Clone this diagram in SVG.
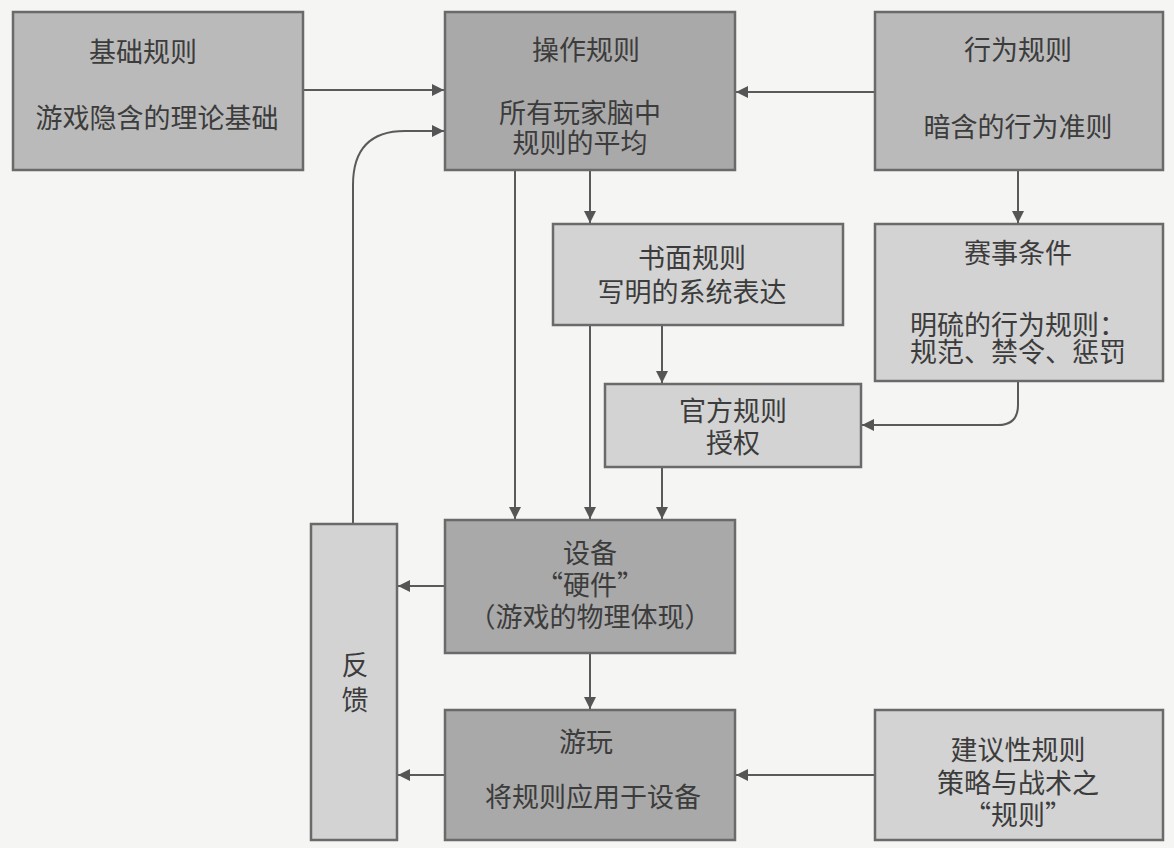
<svg xmlns="http://www.w3.org/2000/svg" width="1174" height="848" viewBox="0 0 1174 848">
<defs>
<marker id="ah" viewBox="0 0 10 10" refX="10" refY="5" markerWidth="12" markerHeight="12" markerUnits="userSpaceOnUse" orient="auto">
<path d="M0,0 L10,5 L0,10 z" fill="#555"/>
</marker>
<style>
.bg{fill:#f5f5f3}
.box{stroke:#6a6a6a;stroke-width:2.5}
.dark{fill:#a9a9a9}
.mid{fill:#bababa}
.light{fill:#d3d3d3}
.t{font-family:"Noto Sans CJK SC","Noto Sans",sans-serif;font-size:27px;fill:#3c3c3c;text-anchor:middle}
.c{fill:none;stroke:#5a5a5a;stroke-width:2;marker-end:url(#ah)}
</style>
</defs>
<rect class="bg" x="0" y="0" width="1174" height="848"/>
<g id="connectors">
<path class="c" d="M303,90 H444"/>
<path class="c" d="M353,524 V185 Q353,131 405,131 H444"/>
<path class="c" d="M875,92 H736"/>
<path class="c" d="M1018,170 V223"/>
<path class="c" d="M590,170 V223"/>
<path class="c" d="M515,170 V519"/>
<path class="c" d="M662,325 V383"/>
<path class="c" d="M590,325 V519"/>
<path class="c" d="M662,467 V519"/>
<path class="c" d="M1018,381 V405 Q1018,425 998,425 H862"/>
<path class="c" d="M445,586 H398"/>
<path class="c" d="M590,653 V709"/>
<path class="c" d="M445,775 H398"/>
<path class="c" d="M875,775 H736"/>
</g>
<g id="n-basic">
<rect class="box mid" x="13" y="12" width="290" height="158"/>
<text class="t" x="143" y="62">基础规则</text>
<text class="t" x="157" y="128">游戏隐含的理论基础</text>
</g>
<g id="n-operational">
<rect class="box dark" x="445" y="12" width="290" height="158"/>
<text class="t" x="586" y="60">操作规则</text>
<text class="t" x="580" y="123">所有玩家脑中<tspan x="580" dy="30">规则的平均</tspan></text>
</g>
<g id="n-behavior">
<rect class="box mid" x="875" y="12" width="288" height="158"/>
<text class="t" x="1018" y="60">行为规则</text>
<text class="t" x="1018" y="137">暗含的行为准则</text>
</g>
<g id="n-written">
<rect class="box light" x="553" y="224" width="290" height="101"/>
<text class="t" x="692" y="268">书面规则<tspan x="692" dy="34">写明的系统表达</tspan></text>
</g>
<g id="n-tournament">
<rect class="box light" x="875" y="224" width="288" height="157"/>
<text class="t" x="1018" y="263">赛事条件</text>
<text class="t" x="1018" y="335">明硫的行为规则：<tspan x="1018" dy="27">规范、禁令、惩罚</tspan></text>
</g>
<g id="n-official">
<rect class="box light" x="605" y="384" width="256" height="83"/>
<text class="t" x="733" y="421">官方规则<tspan x="733" dy="32">授权</tspan></text>
</g>
<g id="n-equipment">
<rect class="box dark" x="445" y="520" width="290" height="133"/>
<text class="t" x="590" y="563">设备<tspan x="590" dy="32">“硬件”</tspan><tspan x="590" dy="32">（游戏的物理体现）</tspan></text>
</g>
<g id="n-feedback">
<rect class="box light" x="311" y="524" width="86" height="316"/>
<text class="t" x="355" y="675">反<tspan x="355" dy="35">馈</tspan></text>
</g>
<g id="n-play">
<rect class="box dark" x="445" y="710" width="290" height="130"/>
<text class="t" x="586" y="752">游玩</text>
<text class="t" x="593" y="807">将规则应用于设备</text>
</g>
<g id="n-advisory">
<rect class="box light" x="875" y="710" width="288" height="130"/>
<text class="t" x="1018" y="760">建议性规则<tspan x="1018" dy="33">策略与战术之</tspan><tspan x="1018" dy="32">“规则”</tspan></text>
</g>
</svg>
